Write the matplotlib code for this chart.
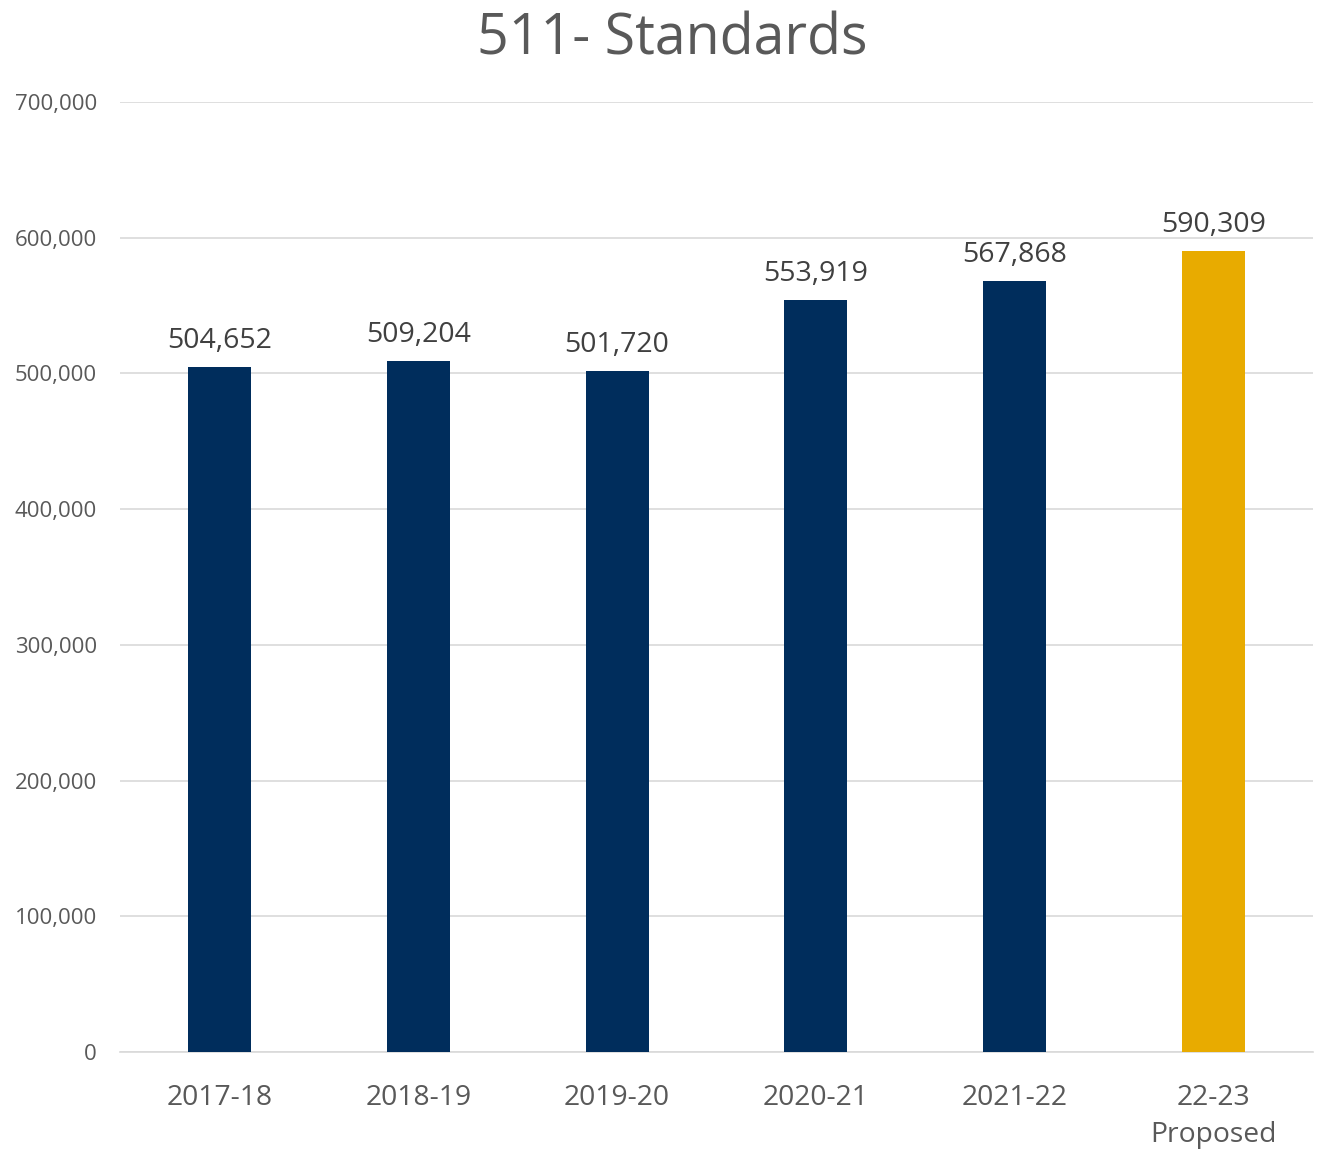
import matplotlib
matplotlib.use('Agg')
import matplotlib.pyplot as plt
from matplotlib.ticker import FuncFormatter

plt.rcParams['font.family'] = ['Open Sans', 'DejaVu Sans']

####################################################################################################
# DATA
####################################################################################################

categories = ['2017-18', '2018-19', '2019-20', '2020-21', '2021-22', '22-23\nProposed']
values = [504652, 509204, 501720, 553919, 567868, 590309]
bar_colors = ['#002D5C'] * 5 + ['#E8AB00']

####################################################################################################
# PLOT
####################################################################################################

fig = plt.figure(figsize=(13.2, 11.49), dpi=100)
ax = fig.add_axes([0.0909, 0.0844, 0.9038, 0.8268])

x = range(len(categories))
bars = ax.bar(x, values, width=0.317, color=bar_colors, zorder=3)

for xi, v in zip(x, values):
    ax.text(xi, v + 9000, f'{v:,}', ha='center', va='bottom', fontsize=20.5, color='#404040')

ax.set_xlim(-0.5, len(categories) - 0.5)
ax.set_ylim(0, 700000)
ax.set_yticks(range(0, 700001, 100000))
ax.yaxis.set_major_formatter(FuncFormatter(lambda v, p: f'{int(v):,}'))
ax.set_xticks(list(x))
ax.set_xticklabels(categories, fontsize=20.3, color='#595959', linespacing=1.45)
ax.tick_params(axis='y', labelsize=16, labelcolor='#595959', length=0, pad=16.5)
ax.tick_params(axis='x', length=0, pad=23)

ax.grid(axis='y', color='#D9D9D9', linewidth=1.2, zorder=0)
for side in ['top', 'right', 'left']:
    ax.spines[side].set_visible(False)
ax.spines['bottom'].set_color('#D9D9D9')
ax.spines['bottom'].set_linewidth(1.2)

fig.suptitle('511- Standards', fontsize=40, color='#595959', x=0.509, y=0.990, va='top')

fig.savefig('out.png', dpi=100)
